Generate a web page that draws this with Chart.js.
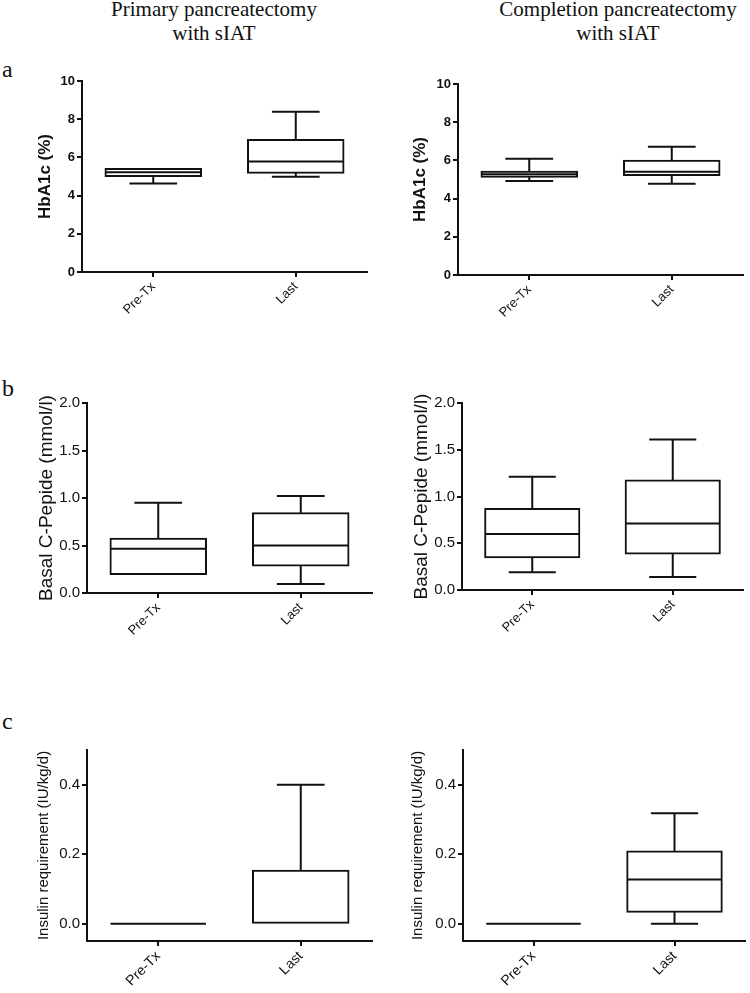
<!DOCTYPE html>
<html>
<head>
<meta charset="utf-8">
<script src="https://cdn.jsdelivr.net/npm/chart.js@4.4.1/dist/chart.umd.min.js"></script>
<style>
  body { margin: 0; background: #fff; }
  #page { position: relative; width: 750px; height: 993px; overflow: hidden; }
  canvas { position: absolute; }
  .colTitle { position: absolute; width: 320px; text-align: center; font-family: "Liberation Serif", "Times New Roman", serif; font-size: 21px; line-height: 24px; color: #111; }
  .letter { position: absolute; left: 2px; font-family: "Liberation Serif", "Times New Roman", serif; font-size: 24px; line-height: 24px; color: #111; }
</style>
</head>
<body>
<div id="page">
  <div class="colTitle" style="left:54px; top:-3px;">Primary pancreatectomy<br>with sIAT</div>
  <div class="colTitle" style="left:458px; top:-3px;">Completion pancreatectomy<br>with sIAT</div>
  <div class="letter" style="top:57px;">a</div>
  <div class="letter" style="top:376px;">b</div>
  <div class="letter" style="top:709px;">c</div>
  <canvas id="aLeft"></canvas>
  <canvas id="aRight"></canvas>
  <canvas id="bLeft"></canvas>
  <canvas id="bRight"></canvas>
  <canvas id="cLeft"></canvas>
  <canvas id="cRight"></canvas>
</div>
<script>
var categories = ['Pre-Tx', 'Last'];

// five-number summaries: [min, Q1, median, Q3, max]
var hba1cPrimaryPre = [4.64, 5.03, 5.22, 5.39, 5.39];
var hba1cPrimaryLast = [4.99, 5.2, 5.78, 6.91, 8.39];
var hba1cCompletionPre = [4.92, 5.15, 5.27, 5.41, 6.09];
var hba1cCompletionLast = [4.78, 5.24, 5.41, 5.98, 6.72];

var cpepPrimaryPre = [0.2, 0.2, 0.465, 0.57, 0.95];
var cpepPrimaryLast = [0.094, 0.29, 0.5, 0.84, 1.02];
var cpepCompletionPre = [0.19, 0.35, 0.6, 0.865, 1.21];
var cpepCompletionLast = [0.14, 0.39, 0.71, 1.17, 1.61];

var insulinPrimaryPre = [0, 0, 0, 0, 0];
var insulinPrimaryLast = [0, 0, 0, 0.152, 0.4];
var insulinCompletionPre = [0, 0, 0, 0, 0];
var insulinCompletionLast = [0, 0.034, 0.127, 0.208, 0.318];

var hba1cTicks = [0, 2, 4, 6, 8, 10];
var cpepTicks = [0, 0.5, 1.0, 1.5, 2.0];
var insulinTicks = [0, 0.2, 0.4];

var FONT = '"Liberation Sans", Arial, sans-serif';

// whiskers + median on top of the floating bars
var boxWhiskers = {
  id: 'boxWhiskers',
  afterDatasetsDraw: function(chart) {
    var ctx = chart.ctx;
    var y = chart.scales.y;
    chart.data.datasets.forEach(function(ds, i) {
      chart.getDatasetMeta(i).data.forEach(function(bar, j) {
        var s = ds.stats[j];
        var half = bar.width / 2, cap = bar.width / 4;
        ctx.save();
        ctx.strokeStyle = '#111';
        ctx.lineWidth = 2;
        ctx.beginPath();
        // median (skip when it sits on the box edge, the border already shows it)
        if (!(s[2] === s[1] && s[3] > s[1])) {
          ctx.moveTo(bar.x - half, y.getPixelForValue(s[2]));
          ctx.lineTo(bar.x + half, y.getPixelForValue(s[2]));
        }
        if (s[4] > s[3]) {
          ctx.moveTo(bar.x, y.getPixelForValue(s[3]));
          ctx.lineTo(bar.x, y.getPixelForValue(s[4]));
          ctx.moveTo(bar.x - cap, y.getPixelForValue(s[4]));
          ctx.lineTo(bar.x + cap, y.getPixelForValue(s[4]));
        }
        if (s[0] < s[1]) {
          ctx.moveTo(bar.x, y.getPixelForValue(s[1]));
          ctx.lineTo(bar.x, y.getPixelForValue(s[0]));
          ctx.moveTo(bar.x - cap, y.getPixelForValue(s[0]));
          ctx.lineTo(bar.x + cap, y.getPixelForValue(s[0]));
        }
        ctx.stroke();
        ctx.restore();
      });
    });
  }
};

function makePanel(id, p) {
  var canvas = document.getElementById(id);
  var top = p.T - 15, xH = 52;
  canvas.width = 375;
  canvas.height = p.B - top + xH;
  canvas.style.left = p.x0 + 'px';
  canvas.style.top = top + 'px';
  var titleSize = p.titleFont.size;
  return new Chart(canvas.getContext('2d'), {
    type: 'bar',
    data: {
      labels: categories,
      datasets: [{
        data: [[p.pre[1], p.pre[3]], [p.last[1], p.last[3]]],
        stats: [p.pre, p.last],
        backgroundColor: '#fff',
        borderColor: '#111',
        borderWidth: 2,
        borderSkipped: false,
        inflateAmount: 1,
        barPercentage: 0.67,
        categoryPercentage: 1
      }]
    },
    options: {
      responsive: false,
      animation: false,
      layout: { padding: { top: 15, right: p.x0 + 375 - p.R, left: 0, bottom: 0 } },
      plugins: { legend: { display: false }, tooltip: { enabled: false } },
      scales: {
        x: {
          type: 'category',
          offset: true,
          afterFit: function(scale) { scale.height = xH; },
          border: { display: true, color: '#111', width: 2 },
          grid: { offset: false, drawOnChartArea: false, drawTicks: true, tickLength: 5, color: '#111', lineWidth: 2 },
          ticks: { color: '#111', maxRotation: 45, minRotation: 45, padding: 2, font: { family: FONT, size: p.xFont } }
        },
        y: {
          min: p.min,
          max: p.max,
          afterFit: function(scale) { scale.width = p.L - p.x0; },
          afterBuildTicks: function(scale) {
            scale.ticks = p.ticks.map(function(v) { return { value: v }; });
          },
          border: { display: true, color: '#111', width: 2 },
          grid: { drawOnChartArea: false, drawTicks: true, tickLength: 5, color: '#111', lineWidth: 2 },
          ticks: {
            color: '#111',
            padding: 2,
            font: p.tickFont,
            callback: function(v) { return p.decimals ? Number(v).toFixed(1) : v; }
          },
          title: {
            display: true,
            text: p.title,
            color: '#111',
            font: p.titleFont,
            padding: { top: p.titleX - titleSize * 0.6, bottom: 0 }
          }
        }
      }
    },
    plugins: [boxWhiskers]
  });
}

var hbFont = { family: FONT, size: 17, weight: 'bold', lineHeight: 1.2 };
var cpFont = { family: FONT, size: 19, lineHeight: 1.2 };
var inFont = { family: FONT, size: 15, lineHeight: 1.2 };

var aLeft = makePanel('aLeft', {
  x0: 0, L: 82, R: 367, T: 81, B: 272,
  pre: hba1cPrimaryPre, last: hba1cPrimaryLast,
  min: 0, max: 10, ticks: hba1cTicks, decimals: false,
  title: 'HbA1c (%)', titleFont: hbFont, titleX: 45,
  tickFont: { family: FONT, size: 13, weight: 'bold' }, xFont: 13
});
var aRight = makePanel('aRight', {
  x0: 375, L: 458, R: 743, T: 84, B: 275,
  pre: hba1cCompletionPre, last: hba1cCompletionLast,
  min: 0, max: 10, ticks: hba1cTicks, decimals: false,
  title: 'HbA1c (%)', titleFont: hbFont, titleX: 45,
  tickFont: { family: FONT, size: 13, weight: 'bold' }, xFont: 13
});
var bLeft = makePanel('bLeft', {
  x0: 0, L: 87, R: 372, T: 403, B: 593,
  pre: cpepPrimaryPre, last: cpepPrimaryLast,
  min: 0, max: 2, ticks: cpepTicks, decimals: true,
  title: 'Basal C-Pepide (mmol/l)', titleFont: cpFont, titleX: 47,
  tickFont: { family: FONT, size: 15 }, xFont: 13
});
var bRight = makePanel('bRight', {
  x0: 375, L: 462, R: 743, T: 403, B: 590,
  pre: cpepCompletionPre, last: cpepCompletionLast,
  min: 0, max: 2, ticks: cpepTicks, decimals: true,
  title: 'Basal C-Pepide (mmol/l)', titleFont: cpFont, titleX: 47,
  tickFont: { family: FONT, size: 15 }, xFont: 13
});
var cLeft = makePanel('cLeft', {
  x0: 0, L: 87, R: 372, T: 750, B: 941,
  pre: insulinPrimaryPre, last: insulinPrimaryLast,
  min: -0.05, max: 0.5, ticks: insulinTicks, decimals: true,
  title: 'Insulin requirement (IU/kg/d)', titleFont: inFont, titleX: 44,
  tickFont: { family: FONT, size: 15 }, xFont: 14
});
var cRight = makePanel('cRight', {
  x0: 375, L: 463, R: 745, T: 750, B: 941,
  pre: insulinCompletionPre, last: insulinCompletionLast,
  min: -0.05, max: 0.5, ticks: insulinTicks, decimals: true,
  title: 'Insulin requirement (IU/kg/d)', titleFont: inFont, titleX: 43,
  tickFont: { family: FONT, size: 15 }, xFont: 14
});
</script>
</body>
</html>
